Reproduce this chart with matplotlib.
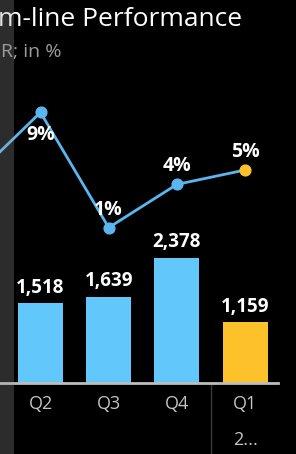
import matplotlib.pyplot as plt
import numpy as np
from matplotlib.patches import Rectangle
import matplotlib.transforms as mtransforms

plt.rcParams['font.family'] = ['Open Sans', 'DejaVu Sans']

# data (first quarter is only partly visible at the left edge)
quarters = ['Q1', 'Q2', 'Q3', 'Q4', 'Q1']
income = [1400, 1518, 1639, 2378, 1159]
growth = [4.4, 9, 1, 4, 5]
growth_labels = ['', '9%', '1%', '4%', '5%']
year_hint = '2...'

blue = '#62C8FB'
yellow = '#FDC12A'
line_blue = '#5AB6EE'

W, H = 296, 454
fig = plt.figure(figsize=(W / 100, H / 100), dpi=100, facecolor='black')

base_px = 383  # baseline from top
ax = fig.add_axes([0, (H - base_px) / H, 1, base_px / H])
ax.set_facecolor('black')
x = np.arange(len(quarters))
step = 68.2
x0 = 1 - 40.5 / step
x1 = 1 + (W - 40.5) / step
ax.set_xlim(x0, x1)
ax.set_ylim(0, base_px / 0.05257)

colors = [blue] * (len(quarters) - 1) + [yellow]
bars = ax.bar(x, income, width=45 / step, color=colors, zorder=2)
ax.bar_label(bars, labels=[f'{v:,}' for v in income], padding=4,
             color='white', fontsize=13.5, fontweight='bold')

for s in ax.spines.values():
    s.set_visible(False)
ax.set_yticks([])
ax.set_xticks(x[1:], quarters[1:])
ax.tick_params(axis='x', length=0, pad=9, colors='#c4c4c4', labelsize=13)

# baseline
ax.plot([x0, 1 + (278 - 40.5) / step], [0, 0], color='#bdbdbd', lw=2,
        clip_on=False, zorder=3)

trans = mtransforms.blended_transform_factory(ax.transData, ax.transAxes)
ax.plot([3.5, 3.5], [0, -80 / base_px], color='#3a3a3a', lw=1,
        transform=trans, clip_on=False)
ax.text(4, -57 / base_px, year_hint, transform=trans, ha='center', va='center',
        color='#c4c4c4', fontsize=13)

# growth line
ax2 = ax.twinx()
ax2.set_ylim(-141 / 14.4, 242 / 14.4)
ax2.set_yticks([])
for s in ax2.spines.values():
    s.set_visible(False)
ax2.plot(x, growth, color=line_blue, lw=2, zorder=3)
ax2.scatter(x[:-1], growth[:-1], s=60, color=line_blue, zorder=4)
ax2.scatter(x[-1:], growth[-1:], s=60, color=yellow, zorder=4)
for xi, g, lab in zip(x, growth, growth_labels):
    if not lab:
        continue
    dy = -16 if lab == '9%' else 13
    ax2.annotate(lab, (xi, g), xytext=(0, dy), textcoords='offset points',
                 ha='center', va='center', color='white', fontsize=14,
                 fontweight='bold')

# titles (cut off at the left, as in the screenshot)
fig.text(-2 / W, 1 - 19 / H, 'm-line Performance', color='white',
         fontsize=19, fontweight='medium', va='center', ha='left')
fig.text(1 / W, 1 - 52 / H, 'R; in %', color='#9a9a9a', fontsize=14,
         va='center', ha='left')

# grey strip at the left edge
fig.patches.append(Rectangle((0, 0), 14 / W, 1, transform=fig.transFigure,
                             facecolor='#a0a0a0', alpha=0.28, zorder=10))

fig.savefig('out.png', dpi=100, facecolor='black')
